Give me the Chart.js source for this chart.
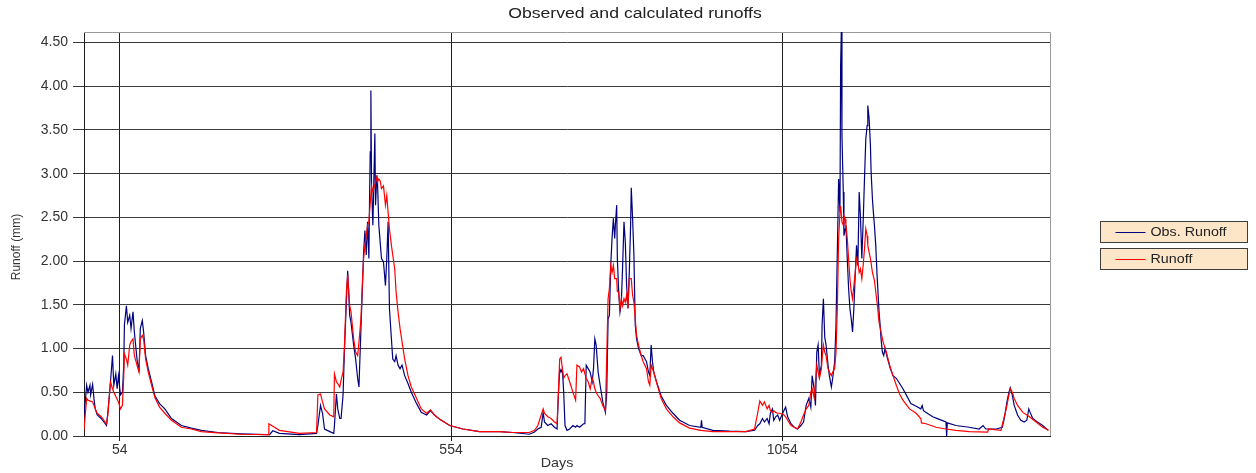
<!DOCTYPE html>
<html>
<head>
<meta charset="utf-8">
<title>Observed and calculated runoffs</title>
<script src="https://cdn.jsdelivr.net/npm/chart.js@4.4.1/dist/chart.umd.min.js"></script>
<style>
  html, body { margin: 0; padding: 0; background: #fff; }
  #wrap { width: 1256px; height: 473px; }
</style>
</head>
<body>
<div id="wrap"><canvas id="runoffChart" width="1256" height="473"></canvas></div>
<script>
/* Observed vs calculated runoff — daily series */
var FONT = "'Liberation Sans', Arial, sans-serif";

var xTicks = [54, 554, 1054];
var yTicks = [0, 0.5, 1, 1.5, 2, 2.5, 3, 3.5, 4, 4.5];

// Obs. Runoff (mm)
var obsDays = [0,4,6,9,10,13,15,17,20,26,34,36,40,43,45,48,50,52,55,58,60,61,64,66,69,71,74,76,80,83,85,88,90,93,97,102,107,114,122,132,147,162,177,202,237,275,280,285,
  295,325,351,353,357,360,363,371,377,378,381,383,386,388,391,393,396,398,401,403,407,410,413,415,418,420,422,424,426,428,430,431,432,433,434,436,437,439,440,442,443,445,447,449,452,455,457,459,461,464,466,469,471,474,477,480,484,489,494,502,509,517,523,529,537,552,572,
  597,627,647,672,680,685,690,693,695,700,705,710,714,716,718,720,722,724,726,729,733,738,742,744,748,751,754,756,758,761,764,767,769,771,773,776,779,783,787,789,791,793,795,797,799,801,802,804,805,807,809,811,813,815,817,819,821,823,825,826,828,830,832,834,837,841,844,849,852,854,856,858,860,864,871,879,889,
  899,914,931,932,933,949,974,999,1012,1017,1020,1024,1027,1031,1034,1036,1039,1041,1044,1047,1050,1055,1059,1062,1067,1072,1077,1082,1086,1090,1094,1097,1099,1102,1104,1106,1108,1110,1113,1114,1116,1118,1120,1123,1125,1128,1130,1133,1135,1137,1139,1141,1142,1143,1144,1146,1147,1149,1150,1152,1154,1156,1158,1160,1162,1164,1166,1168,1170,1172,1174,1176,1178,1180,1182,1183,1185,
  1187,1188,1190,1191,1193,1195,1197,1200,1202,1203,1205,1207,1209,1211,1213,1217,1221,1226,1231,1236,1241,1248,1256,1263,1265,1267,1271,1281,1291,1301,1302,1303,1316,1336,1351,1357,1361,1377,1386,1389,1393,1396,1398,1401,1404,1409,1414,1419,1423,1426,1428,1432,1439,1447,1455];
var obsRunoff = [0.22,0.58,0.50,0.58,0.47,0.59,0.43,0.31,0.24,0.20,0.12,0.27,0.62,0.92,0.58,0.71,0.54,0.69,0.47,0.50,0.81,1.27,1.49,1.30,1.38,1.23,1.42,1.19,0.88,0.73,1.23,1.32,1.19,0.92,0.77,0.62,0.46,0.37,0.31,0.20,0.12,0.09,0.065,0.04,0.025,0.015,0.015,0.06,
  0.03,0.015,0.03,0.12,0.35,0.26,0.08,0.05,0.03,0.12,0.48,0.31,0.20,0.20,0.47,0.96,1.53,1.89,1.38,1.30,1.04,0.88,0.66,0.56,1.23,1.65,2.10,2.35,2.07,2.45,2.03,2.71,3.25,3.95,2.86,2.41,2.75,3.46,2.64,2.98,2.90,2.41,2.22,2.03,1.99,1.72,2.03,2.45,1.46,1.11,0.88,0.85,0.92,0.81,0.77,0.81,0.69,0.60,0.50,0.37,0.27,0.24,0.29,0.24,0.19,0.12,0.08,
  0.05,0.05,0.04,0.02,0.045,0.08,0.10,0.27,0.16,0.12,0.14,0.10,0.08,0.47,0.77,0.73,0.77,0.50,0.12,0.065,0.08,0.12,0.10,0.12,0.10,0.12,0.14,0.14,0.81,0.77,0.73,0.62,0.77,1.11,1.04,0.73,0.58,0.39,0.27,0.50,1.34,1.38,1.95,2.26,2.49,2.26,2.41,2.64,2.03,1.65,1.42,1.53,1.95,2.45,2.22,1.72,1.46,1.87,2.41,2.84,2.49,2.07,1.27,1.11,1.00,0.92,0.92,0.85,0.73,0.69,1.04,0.85,0.73,0.62,0.46,0.35,0.26,
  0.18,0.12,0.10,0.18,0.10,0.065,0.055,0.05,0.065,0.12,0.14,0.20,0.16,0.20,0.14,0.26,0.31,0.18,0.22,0.24,0.18,0.27,0.33,0.22,0.14,0.10,0.08,0.12,0.16,0.35,0.43,0.33,0.69,0.54,0.35,0.96,1.04,0.69,0.81,1.27,1.57,1.13,1.04,0.81,0.69,0.56,0.66,0.85,1.27,2.10,2.94,2.56,4.24,4.62,3.44,2.79,2.29,2.37,2.41,2.03,1.69,1.46,1.34,1.19,1.46,1.84,2.18,1.95,2.79,2.49,2.03,2.45,2.94,3.40,3.55,3.78,3.63,
  3.32,3.02,2.71,2.60,2.41,2.18,1.84,1.42,1.23,1.11,0.96,0.92,1.00,0.94,0.88,0.77,0.69,0.66,0.60,0.54,0.47,0.37,0.34,0.31,0.35,0.29,0.27,0.22,0.19,0.16,0.0,0.15,0.12,0.10,0.08,0.12,0.08,0.08,0.10,0.20,0.39,0.50,0.55,0.47,0.35,0.24,0.18,0.16,0.18,0.31,0.27,0.20,0.16,0.12,0.065];

// Runoff (calculated, mm)
var simDays = [0,4,6,13,17,20,26,34,36,40,43,45,52,55,58,60,61,64,66,69,71,74,76,80,83,85,88,90,93,97,102,107,114,122,132,147,162,177,202,237,278,279,
  295,325,351,353,357,360,363,371,377,378,381,383,386,388,391,393,396,398,401,403,407,410,413,415,418,420,422,424,426,428,430,431,434,436,440,442,443,445,447,449,452,455,457,459,461,464,466,469,471,474,477,480,484,489,494,502,509,517,523,529,537,552,572,
  597,627,647,672,680,685,690,693,695,700,705,710,714,716,718,720,722,724,726,729,733,738,742,744,748,751,754,756,758,761,764,767,769,771,773,776,779,783,787,789,791,793,795,797,799,801,804,805,807,809,811,813,815,817,819,821,823,826,828,830,832,834,837,841,844,849,852,854,856,858,860,864,871,879,889,
  899,914,931,949,974,999,1012,1017,1020,1024,1027,1031,1034,1036,1039,1041,1044,1047,1050,1055,1059,1062,1067,1072,1077,1082,1086,1090,1094,1097,1099,1102,1104,1106,1108,1110,1113,1114,1116,1118,1120,1123,1125,1128,1130,1133,1135,1137,1139,1141,1142,1144,1146,1147,1149,1150,1152,1154,1156,1158,1160,1162,1164,1166,1168,1170,1172,1174,1176,1178,1180,1182,1183,1185,
  1187,1190,1193,1195,1198,1200,1206,1211,1216,1221,1226,1231,1236,1246,1256,1263,1264,1271,1286,1301,1316,1336,1364,1365,1384,1387,1392,1396,1398,1401,1404,1409,1417,1427,1437,1447,1456];
var simRunoff = [0.065,0.43,0.41,0.39,0.31,0.26,0.22,0.14,0.24,0.62,0.54,0.50,0.39,0.31,0.35,0.69,0.94,0.88,0.81,1.04,1.08,1.11,0.92,0.81,0.73,1.11,1.15,1.11,0.88,0.73,0.58,0.44,0.33,0.26,0.18,0.10,0.08,0.05,0.035,0.02,0.015,0.14,
  0.065,0.03,0.04,0.47,0.48,0.39,0.31,0.24,0.22,0.71,0.62,0.60,0.56,0.64,0.73,1.00,1.65,1.84,1.49,1.42,1.11,0.96,0.92,1.07,1.34,1.72,2.03,2.18,2.29,2.41,2.45,2.56,2.86,2.79,2.90,2.96,2.90,2.94,2.92,2.83,2.86,2.64,2.75,2.56,2.37,2.18,2.07,1.91,1.65,1.42,1.23,1.08,0.88,0.69,0.56,0.43,0.31,0.26,0.30,0.24,0.19,0.12,0.08,
  0.05,0.05,0.04,0.04,0.065,0.12,0.24,0.31,0.26,0.22,0.20,0.16,0.14,0.50,0.88,0.90,0.77,0.66,0.69,0.71,0.62,0.50,0.41,0.81,0.79,0.73,0.77,0.71,0.66,0.62,0.54,0.66,0.62,0.54,0.50,0.46,0.43,0.35,0.29,0.92,1.57,1.69,1.95,1.87,1.95,1.80,1.80,1.65,1.65,1.46,1.57,1.49,1.57,1.53,1.61,1.46,1.80,1.80,1.61,1.53,1.34,1.15,1.04,0.92,0.85,0.77,0.62,0.58,0.81,0.77,0.73,0.62,0.43,0.31,0.22,
  0.15,0.09,0.065,0.05,0.05,0.05,0.08,0.27,0.40,0.35,0.39,0.31,0.35,0.29,0.27,0.29,0.27,0.26,0.26,0.25,0.22,0.18,0.12,0.10,0.08,0.16,0.24,0.31,0.35,0.50,0.54,0.44,0.62,0.81,0.73,0.66,0.77,0.88,1.04,0.96,0.92,0.77,0.73,0.69,0.73,0.77,0.96,1.46,2.26,2.56,2.63,2.45,2.41,2.52,2.48,2.41,2.26,2.03,1.80,1.65,1.57,1.72,1.87,2.03,1.99,1.87,1.91,1.80,1.95,2.14,2.37,2.29,2.18,2.10,
  2.03,1.87,1.78,1.65,1.46,1.30,1.08,0.96,0.81,0.69,0.58,0.48,0.41,0.31,0.26,0.20,0.15,0.14,0.10,0.08,0.065,0.05,0.045,0.08,0.065,0.16,0.31,0.47,0.54,0.50,0.43,0.35,0.27,0.22,0.16,0.10,0.065];

function toPoints(days, vals) {
    return days.map(function(d, i) { return { x: d, y: vals[i] }; });
}

// gray top/right frame of the plot area
var plotFrame = {
    id: 'plotFrame',
    beforeDatasetsDraw: function(chart) {
        var a = chart.chartArea, ctx = chart.ctx;
        ctx.save();
        ctx.strokeStyle = '#9a9a9a';
        ctx.lineWidth = 1;
        ctx.beginPath();
        ctx.moveTo(a.left, a.top + 0.5);
        ctx.lineTo(a.right + 0.5, a.top + 0.5);
        ctx.lineTo(a.right + 0.5, a.bottom);
        ctx.stroke();
        ctx.restore();
    }
};

// the original's texts are a little wide; draw them stretched horizontally
function wideText(ctx, text, x, y, size, stretch) {
    ctx.save();
    ctx.font = size + 'px ' + FONT;
    ctx.translate(x, y);
    ctx.scale(stretch, 1);
    ctx.fillText(text, 0, 0);
    ctx.restore();
}

// title, axis titles and boxed legend entries
var textsAndLegend = {
    id: 'textsAndLegend',
    afterDraw: function(chart) {
        var ctx = chart.ctx;
        ctx.save();
        ctx.fillStyle = '#222';
        ctx.textAlign = 'center';
        ctx.textBaseline = 'middle';
        wideText(ctx, 'Observed and calculated runoffs', 635, 14, 14, 1.26);

        ctx.fillStyle = '#333';
        wideText(ctx, 'Days', 557, 463, 13, 1.1);
        ctx.save();
        ctx.translate(17, 247);
        ctx.rotate(-Math.PI / 2);
        ctx.font = '12px ' + FONT;
        ctx.fillText('Runoff (mm)', 0, 0);
        ctx.restore();

        ctx.textAlign = 'left';
        chart.data.datasets.forEach(function(ds, i) {
            var left = 1100.5, top = 221.5 + i * 27;
            ctx.fillStyle = '#fde5c8';
            ctx.fillRect(left, top, 147, 21);
            ctx.strokeStyle = '#3c3c3c';
            ctx.lineWidth = 1;
            ctx.strokeRect(left, top, 147, 21);
            ctx.strokeStyle = ds.borderColor;
            ctx.beginPath();
            ctx.moveTo(left + 15, top + 11);
            ctx.lineTo(left + 45, top + 11);
            ctx.stroke();
            ctx.fillStyle = '#222';
            wideText(ctx, ds.label, left + 50, top + 11, 13, 1.1);
        });
        ctx.restore();
    }
};

new Chart(document.getElementById('runoffChart').getContext('2d'), {
    type: 'line',
    data: {
        datasets: [
            { label: 'Obs. Runoff', data: toPoints(obsDays, obsRunoff), borderColor: '#00007f', borderWidth: 1.2, pointRadius: 0, tension: 0, order: 1 },
            { label: 'Runoff', data: toPoints(simDays, simRunoff), borderColor: '#ff0000', borderWidth: 1.2, pointRadius: 0, tension: 0, order: 0 }
        ]
    },
    options: {
        responsive: false,
        animation: false,
        layout: { padding: { top: 32, right: 206, left: 0, bottom: 0 } },
        plugins: { legend: { display: false }, title: { display: false }, tooltip: { enabled: false } },
        scales: {
            x: {
                type: 'linear', min: 0, max: 1458,
                afterBuildTicks: function(s) { s.ticks = xTicks.map(function(v) { return { value: v }; }); },
                afterFit: function(s) { s.height = 37; },
                grid: { color: '#1e1e1e', tickColor: '#1e1e1e', tickLength: 5 },
                border: { color: '#1e1e1e' },
                ticks: { font: { family: FONT, size: 14 }, color: '#333', padding: 1, maxRotation: 0, autoSkip: false,
                         callback: function(v) { return String(v); } }
            },
            y: {
                min: 0, max: 4.62,
                afterBuildTicks: function(s) { s.ticks = yTicks.map(function(v) { return { value: v }; }); },
                afterFit: function(s) { s.width = 84; },
                grid: { color: '#3a3a3a', tickColor: '#3a3a3a', tickLength: 11 },
                border: { color: '#1e1e1e' },
                ticks: { font: { family: FONT, size: 14 }, color: '#333', padding: 5, callback: function(v) { return v.toFixed(2); } }
            }
        }
    },
    plugins: [plotFrame, textsAndLegend]
});
</script>
</body>
</html>
